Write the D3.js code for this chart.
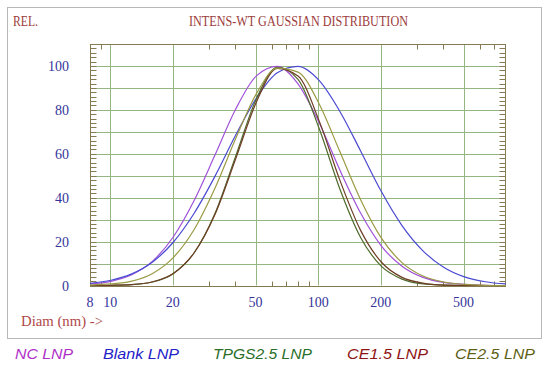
<!DOCTYPE html>
<html><head><meta charset="utf-8">
<script src="https://cdn.jsdelivr.net/npm/d3@7"></script>
<style>html,body{margin:0;padding:0;background:#fff;}svg{display:block;}</style>
</head><body>
<script>
// ---- data ----
const diameters = [8, 10.1, 12.7, 16, 20.1, 25.3, 31.9, 40.1, 50.5, 63.6, 80, 101, 127, 160, 201, 253, 319, 401, 505, 636, 800];
const ncLNP    = [0.7, 1.9, 4.9, 11.1, 22.1, 38.6, 59.4, 80.3, 95.5, 99.8, 91.8, 74.2, 52.7, 33.0, 18.1, 8.8, 3.7, 1.4, 0.5, 0.1, 0.0];
const blankLNP = [1.0, 2.4, 5.3, 10.7, 19.7, 32.8, 49.7, 68.4, 85.4, 96.9, 99.8, 93.4, 79.4, 61.3, 42.9, 27.3, 15.8, 8.3, 3.9, 1.7, 0.7];
const tpgsLNP  = [0.0, 0.1, 0.4, 1.6, 5.4, 14.8, 32.8, 58.8, 85.1, 99.4, 93.9, 71.6, 44.1, 21.9, 8.8, 2.9, 0.7, 0.2, 0.0, 0.0, 0.0];
const ce15LNP  = [0.0, 0.1, 0.4, 1.7, 5.5, 14.8, 32.3, 57.6, 83.6, 98.9, 95.4, 75.1, 48.1, 25.1, 10.7, 3.7, 1.1, 0.2, 0.0, 0.0, 0.0];
const ce25LNP  = [0.2, 0.7, 2.0, 5.5, 12.7, 25.4, 44.3, 66.8, 87.4, 99.0, 97.2, 82.8, 61.1, 39.1, 21.7, 10.4, 4.3, 1.6, 0.5, 0.1, 0.0];
const seriesNames = ["NC LNP", "Blank LNP", "TPGS2.5 LNP", "CE1.5 LNP", "CE2.5 LNP"];
const xTickLabels = [8, 10, 20, 50, 100, 200, 500];
const xGridValues = [10, 20, 50, 100, 200, 500];
const xMinorValues = [9, 30, 40, 60, 70, 80, 90, 300, 400, 600, 700];
const yTickLabels = [0, 20, 40, 60, 80, 100];

// ---- styles ----
const curveColors = ["#a052d8", "#4a4ad2", "#4f6a2a", "#6e3e26", "#9a9a44"];
const legendColors = ["#b030c8", "#2222c8", "#2a6e2a", "#8e1414", "#5e5e14"];
const legendBox = [[15, 58], [103, 76], [213, 99], [347, 81], [455, 80]];

const W = 550, H = 369;
const svg = d3.select("body").append("svg").attr("width", W).attr("height", H);

svg.append("rect").attr("x", 7.5).attr("y", 7.5).attr("width", 534).attr("height", 331)
  .attr("fill", "#fff").attr("stroke", "#b8b8b8").attr("stroke-width", 1);

const x = d3.scaleLog().domain([8, 800]).range([90, 506]);
const y = d3.scaleLinear().domain([0, 110]).range([285.5, 44]);
const px = v => Math.round(x(v)) + 0.5;
const py = v => Math.round(y(v)) + 0.5;

const gridColor = "#93b683";
const axisColor = "#857a52";
const g = svg.append("g");

// horizontal grid every 10
d3.range(10, 110, 10).forEach(v => {
  g.append("line").attr("x1", 90).attr("x2", 506).attr("y1", py(v)).attr("y2", py(v))
    .attr("stroke", gridColor).attr("stroke-width", 1);
});
// vertical grid
xGridValues.forEach(v => {
  g.append("line").attr("x1", px(v)).attr("x2", px(v)).attr("y1", 44).attr("y2", 285.5)
    .attr("stroke", gridColor).attr("stroke-width", 1);
});
// minor x ticks top and bottom
xMinorValues.forEach(v => {
  g.append("line").attr("x1", px(v)).attr("x2", px(v)).attr("y1", py(0)).attr("y2", py(0) - 5)
    .attr("stroke", axisColor);
  g.append("line").attr("x1", px(v)).attr("x2", px(v)).attr("y1", py(110)).attr("y2", py(110) + 5)
    .attr("stroke", axisColor);
});
// minor y ticks left and right
d3.range(2, 110, 2).forEach(v => {
  g.append("line").attr("x1", 90.5).attr("x2", 96.5).attr("y1", py(v)).attr("y2", py(v))
    .attr("stroke", axisColor);
  g.append("line").attr("x1", 505.5).attr("x2", 499.5).attr("y1", py(v)).attr("y2", py(v))
    .attr("stroke", axisColor);
});
// frame
g.append("rect").attr("x", 90.5).attr("y", py(110)).attr("width", 415).attr("height", py(0) - py(110))
  .attr("fill", "none").attr("stroke", axisColor).attr("stroke-width", 1);

// curves
const allSeries = [ncLNP, blankLNP, tpgsLNP, ce15LNP, ce25LNP];
const line = d3.line().x(d => x(d[0])).y(d => y(d[1])).curve(d3.curveMonotoneX);
allSeries.forEach((s, i) => {
  svg.append("path").datum(diameters.map((d, j) => [d, s[j]]))
    .attr("d", line).attr("fill", "none").attr("stroke", curveColors[i]).attr("stroke-width", 1.2);
});

// y tick labels
const labelColor = "#34349a";
yTickLabels.forEach(v => {
  svg.append("text").attr("x", 69).attr("y", y(v) + 5).attr("text-anchor", "end")
    .attr("font-family", "Liberation Serif, serif").attr("font-size", 14).attr("fill", labelColor).text(v);
});
// x tick labels
xTickLabels.forEach(v => {
  svg.append("text").attr("x", x(v)).attr("y", 307).attr("text-anchor", "middle")
    .attr("font-family", "Liberation Serif, serif").attr("font-size", 14).attr("fill", labelColor).text(v);
});

// titles
const titleColor = "#9c3c3c";
svg.append("text").attr("x", 189).attr("y", 26).attr("textLength", 219).attr("lengthAdjust", "spacingAndGlyphs")
  .attr("font-family", "Liberation Serif, serif").attr("font-size", 15).attr("fill", titleColor)
  .text("INTENS-WT GAUSSIAN DISTRIBUTION");
svg.append("text").attr("x", 13).attr("y", 26).attr("textLength", 25).attr("lengthAdjust", "spacingAndGlyphs")
  .attr("font-family", "Liberation Serif, serif").attr("font-size", 15).attr("fill", titleColor).text("REL.");
svg.append("text").attr("x", 21).attr("y", 326).attr("textLength", 82).attr("lengthAdjust", "spacingAndGlyphs")
  .attr("font-family", "Liberation Serif, serif").attr("font-size", 15).attr("fill", "#b04848").text("Diam (nm) ->");

// legend
seriesNames.forEach((n, i) => {
  svg.append("text").attr("x", legendBox[i][0]).attr("y", 359)
    .attr("textLength", legendBox[i][1]).attr("lengthAdjust", "spacingAndGlyphs")
    .attr("font-family", "Liberation Sans, Arial, sans-serif").attr("font-style", "italic")
    .attr("font-size", 14).attr("fill", legendColors[i]).text(n);
});
</script>
</body></html>
